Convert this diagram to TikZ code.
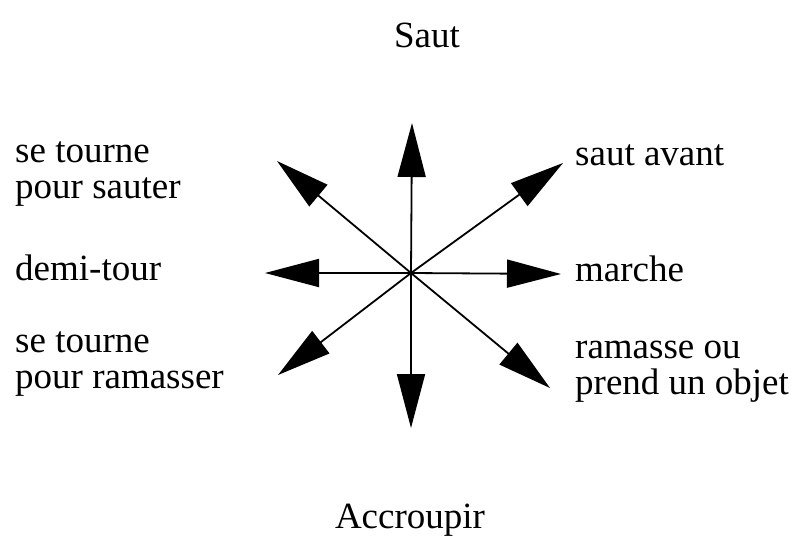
\documentclass[tikz,border=0pt]{standalone}
\usepackage{fontspec}
\setmainfont{Liberation Serif}
\usetikzlibrary{arrows.meta}
\begin{document}
\begin{tikzpicture}[x=1pt,y=-1pt,
  lbl/.style={inner sep=0pt, font=\fontsize{37}{36}\selectfont},
  dirarrow/.style={line width=1.8pt, -{Triangle[length=54pt,width=28pt]}}]
\useasboundingbox (0,0) rectangle (801,539);
\coordinate (c) at (411,273);
\coordinate (tU) at (412,123);
\coordinate (tUR) at (563,163);
\coordinate (tR) at (561,274);
\coordinate (tDR) at (550,388);
\coordinate (tD) at (411,428);
\coordinate (tDL) at (278,375);
\coordinate (tL) at (265,273);
\coordinate (tUL) at (277,161);
\foreach \t in {tU,tUR,tR,tDR,tD,tDL,tL,tUL}
  \draw[dirarrow] (c) -- (\t);
\node[lbl, anchor=base] (saut) at (427,47) {Saut};
\node[lbl, anchor=base] (accr) at (410,528) {Accroupir};
\node[lbl, anchor=base west] (tps) at (15,162) {\begin{tabular}[t]{@{}l@{}}se tourne\\pour sauter\end{tabular}};
\node[lbl, anchor=base west] (dt) at (15,280) {demi-tour};
\node[lbl, anchor=base west] (tpr) at (15,352) {\begin{tabular}[t]{@{}l@{}}se tourne\\pour ramasser\end{tabular}};
\node[lbl, anchor=base west] (sa) at (575,165) {saut avant};
\node[lbl, anchor=base west] (mar) at (575,281) {marche};
\node[lbl, anchor=base west] (ram) at (575,358) {\begin{tabular}[t]{@{}l@{}}ramasse ou\\prend un objet\end{tabular}};
\end{tikzpicture}
\end{document}
